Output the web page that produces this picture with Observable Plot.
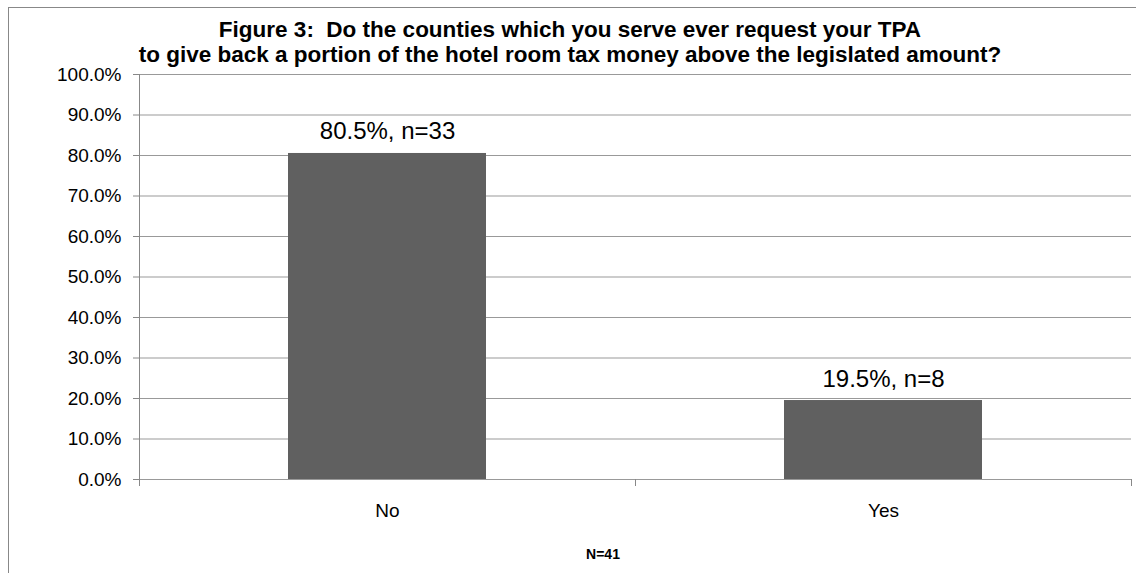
<!DOCTYPE html>
<html>
<head>
<meta charset="utf-8">
<script src="https://cdn.jsdelivr.net/npm/d3@7"></script>
<script src="https://cdn.jsdelivr.net/npm/@observablehq/plot@0.6"></script>
<style>
  html, body { margin: 0; padding: 0; background: #fff; width: 1136px; height: 573px; overflow: hidden; }
  #wrap { position: relative; width: 1136px; height: 573px; font-family: "Liberation Sans", Arial, sans-serif; }
  #border { position: absolute; left: 8px; top: 7px; width: 1140px; height: 580px; border-left: 1px solid #888; border-top: 1px solid #888; box-sizing: border-box; }
  #title { position: absolute; left: 0; top: 17px; width: 1136px; text-align: center; font-size: 22.5px; font-weight: bold; line-height: 25px; color: #000; padding-left: 4px; box-sizing: border-box; }
  #caption { position: absolute; left: 0; top: 546px; width: 1136px; text-align: center; font-size: 14px; font-weight: bold; color: #000; padding-left: 70px; box-sizing: border-box; }
  #chart { position: absolute; left: 0; top: 0; }
</style>
</head>
<body>
<div id="wrap">
  <div id="border"></div>
  <div id="chart"></div>
  <div id="title">Figure 3:&nbsp; Do the counties which you serve ever request your TPA<br>to give back a portion of the hotel room tax money above the legislated amount?</div>
  <div id="caption">N=41</div>
</div>
<script>
const categories = ["No", "Yes"];
const shares = [0.805, 0.195];
const counts = [33, 8];
const yTicks = [0, 0.1, 0.2, 0.3, 0.4, 0.5, 0.6, 0.7, 0.8, 0.9, 1.0];

const data = categories.map((c, i) => ({cat: c, share: shares[i], n: counts[i]}));
const fmt = d3.format(".1%");

const boundaryTicks = (index, scales, values, dims) => {
  const g = d3.create("svg:g");
  const x0 = dims.marginLeft, x1 = dims.width - dims.marginRight;
  const y0 = dims.height - dims.marginBottom;
  const step = (x1 - x0) / categories.length;
  for (let i = 0; i <= categories.length; i++) {
    const x = Math.round(x0 + i * step) + 0.5;
    g.append("line").attr("x1", x).attr("x2", x).attr("y1", y0).attr("y2", y0 + 7)
      .attr("stroke", "#888").attr("stroke-width", 1);
  }
  g.append("line").attr("x1", x0 + 0.5).attr("x2", x0 + 0.5).attr("y1", dims.marginTop).attr("y2", y0)
    .attr("stroke", "#888");
  return g.node();
};

const plot = Plot.plot({
  width: 1136,
  height: 573,
  marginLeft: 139,
  marginRight: 5,
  marginTop: 74,
  marginBottom: 94,
  style: { fontFamily: "Liberation Sans, Arial, sans-serif", background: "transparent", color: "#000" },
  x: { domain: categories, paddingInner: 0.6, paddingOuter: 0.3, label: null },
  y: { domain: [0, 1], label: null },
  marks: [
    Plot.ruleY(yTicks, { stroke: "#999", strokeWidth: 1 }),
    Plot.axisY({ ticks: yTicks, tickFormat: fmt, tickSize: 6, tickPadding: 12, fontSize: 19, stroke: "#888", label: null }),
    Plot.axisX({ tickSize: 0, tickPadding: 24, fontSize: 19, label: null }),
    Plot.barY(data, { x: "cat", y: "share", fill: "#606060" }),
    Plot.text(data, { x: "cat", y: "share", text: d => `${fmt(d.share)}, n=${d.n}`, lineAnchor: "bottom", dy: -14, fontSize: 24, fill: "#000" }),
    boundaryTicks
  ]
});
document.getElementById("chart").appendChild(plot);
</script>
</body>
</html>
